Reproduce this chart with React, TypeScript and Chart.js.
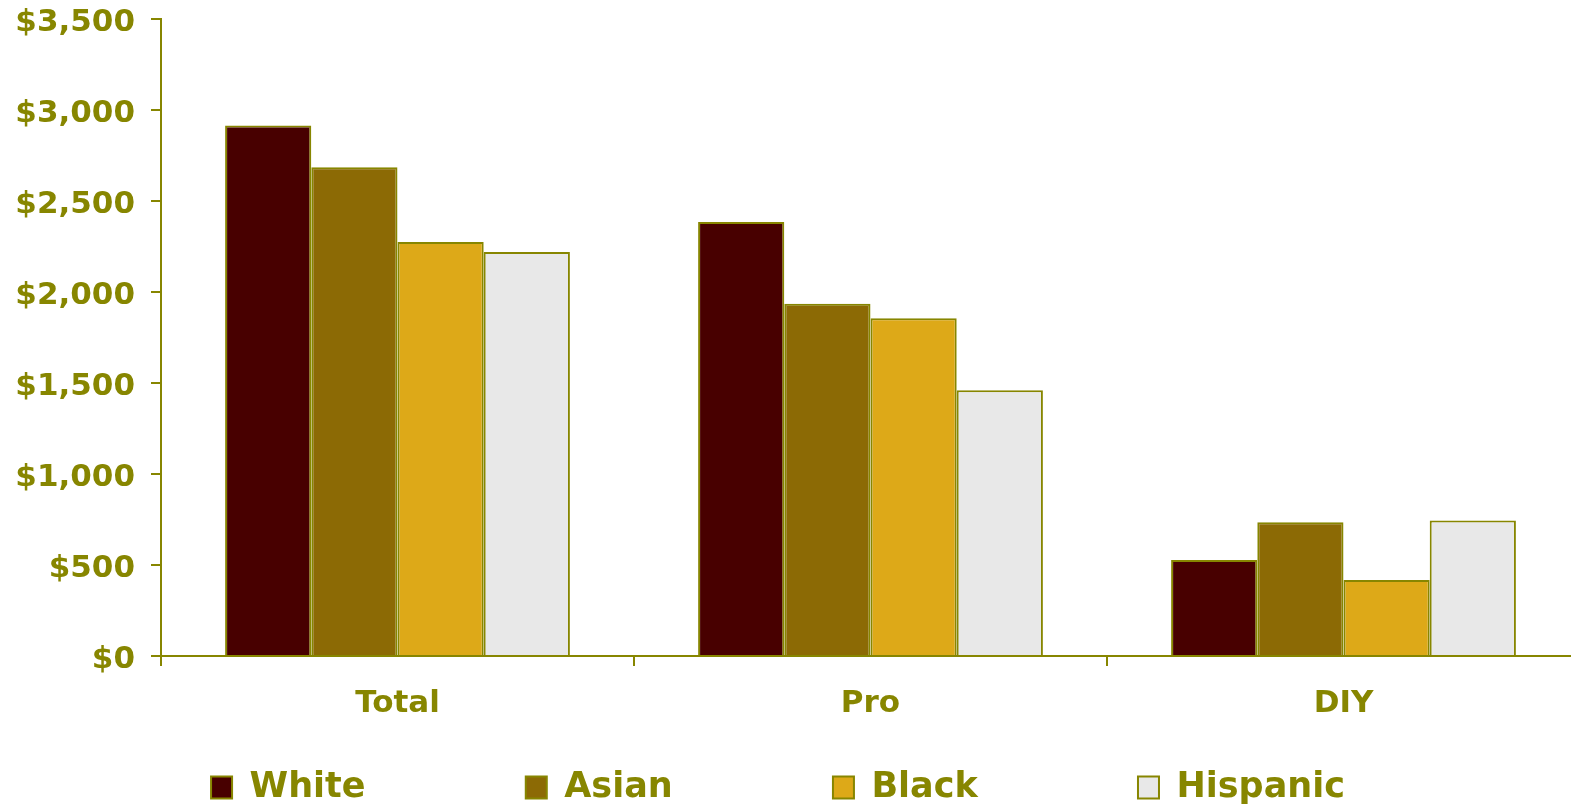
import React, { useEffect, useRef } from "react";
import { Chart, registerables } from "chart.js";

Chart.register(...registerables);

const categories = ["Total", "Pro", "DIY"];
const seriesNames = ["White", "Asian", "Black", "Hispanic"];
const whiteValues = [2915, 2385, 527];
const asianValues = [2685, 1935, 735];
const blackValues = [2275, 1856, 417];
const hispanicValues = [2220, 1460, 745];
const yTicks = [0, 500, 1000, 1500, 2000, 2500, 3000, 3500];

const OLIVE = "#878600";
const FILLS = ["#480000", "#8C6A05", "#DDA918", "#E8E8E8"];
const FONT = "'DejaVu Sans', Verdana, sans-serif";
const LEGEND_GAP = "\u0020".repeat(12);

export default function App() {
  const canvasRef = useRef<HTMLCanvasElement | null>(null);

  useEffect(() => {
    const canvas = canvasRef.current;
    if (!canvas) return;
    const valueSets = [whiteValues, asianValues, blackValues, hispanicValues];
    const chart = new Chart(canvas, {
      type: "bar",
      data: {
        labels: categories,
        datasets: seriesNames.map((name, i) => ({
          label: name,
          data: valueSets[i],
          backgroundColor: FILLS[i],
          borderColor: OLIVE,
          borderWidth: 2,
          barPercentage: 1,
          categoryPercentage: 0.729,
        })),
      },
      options: {
        responsive: false,
        animation: false,
        devicePixelRatio: 1,
        layout: { padding: { top: 19, left: 0, right: 0, bottom: -9 } },
        plugins: {
          tooltip: { enabled: false },
          legend: {
            position: "bottom",
            labels: {
              color: OLIVE,
              font: { family: FONT, size: 35, weight: "bold" },
              boxWidth: 21,
              boxHeight: 22,
              padding: 14,
              generateLabels: (ch: any) =>
                ch.data.datasets.map((ds: any, i: number) => ({
                  text: i < ch.data.datasets.length - 1 ? ds.label + LEGEND_GAP : ds.label,
                  fillStyle: ds.backgroundColor,
                  strokeStyle: OLIVE,
                  lineWidth: 2,
                  fontColor: OLIVE,
                  hidden: false,
                  datasetIndex: i,
                })),
            },
          },
        },
        scales: {
          x: {
            offset: true,
            grid: {
              offset: true,
              drawOnChartArea: false,
              drawTicks: true,
              tickLength: 10,
              color: OLIVE,
              lineWidth: 2,
            },
            border: { display: true, color: OLIVE, width: 2 },
            ticks: {
              color: OLIVE,
              font: { family: FONT, size: 31, weight: "bold" },
              padding: 19,
              maxRotation: 0,
            },
            afterFit: (scale: any) => {
              scale.height = 100;
            },
          },
          y: {
            min: 0,
            max: 3500,
            afterBuildTicks: (scale: any) => {
              scale.ticks = yTicks.map((v) => ({ value: v }));
            },
            grid: {
              drawOnChartArea: false,
              drawTicks: true,
              tickLength: 10,
              color: OLIVE,
              lineWidth: 2,
            },
            border: { display: true, color: OLIVE, width: 2 },
            ticks: {
              color: OLIVE,
              font: { family: FONT, size: 31, weight: "bold" },
              padding: 16,
              labelOffset: 4,
              callback: (v: any) => "$" + Number(v).toLocaleString("en-US"),
            },
            afterFit: (scale: any) => {
              scale.width = 185;
              scale.paddingTop = 0;
              scale.paddingBottom = 0;
            },
          },
        },
      },
    });
    return () => chart.destroy();
  }, []);

  return (
    <div
      style={{
        position: "fixed",
        left: 0,
        top: 0,
        width: "1571px",
        height: "806px",
        overflow: "hidden",
        background: "#ffffff",
      }}
    >
      <canvas
        ref={canvasRef}
        width={1604}
        height={806}
        style={{ position: "absolute", left: "-24px", top: 0, width: "1604px", height: "806px" }}
      />
    </div>
  );
}
